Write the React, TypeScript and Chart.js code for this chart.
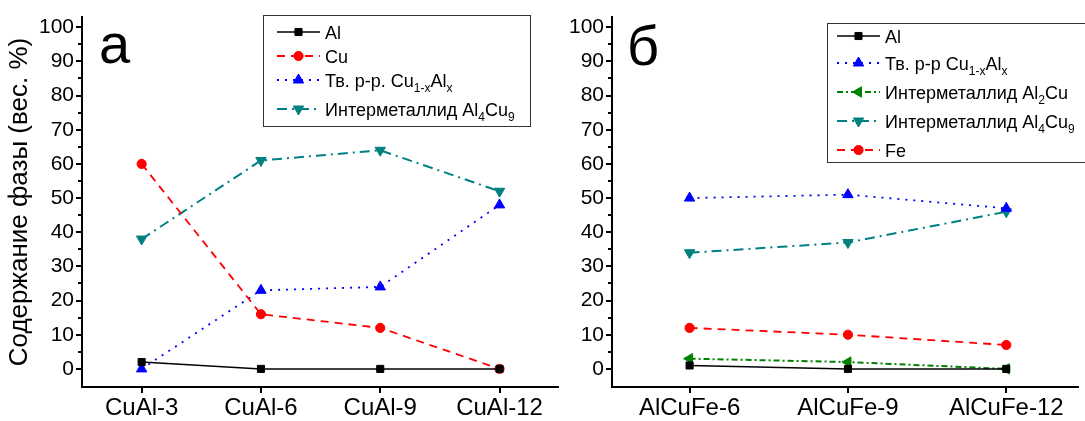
import React, { useEffect, useRef } from 'react';
import { Chart, registerables } from 'chart.js';
Chart.register(...registerables);

const FONT = "'Liberation Sans', Arial, sans-serif";

// ---------- data: panel а ----------
const catsA = ['CuAl-3', 'CuAl-6', 'CuAl-9', 'CuAl-12'];
const aAl = [2, 0, 0, 0];
const aCu = [60, 16, 12, 0];
const aSolid = [0, 23, 24, 48];
const aAl4Cu9 = [38, 61, 64, 52];

// ---------- data: panel б ----------
const catsB = ['AlCuFe-6', 'AlCuFe-9', 'AlCuFe-12'];
const bAl = [1, 0, 0];
const bSolid = [50, 51, 47];
const bAl2Cu = [3, 2, 0];
const bAl4Cu9 = [34, 37, 46];
const bFe = [12, 10, 7];

// ---------- ticks ----------
const yTicks = [0, 10, 20, 30, 40, 50, 60, 70, 80, 90, 100];
const yMinor = [5, 15, 25, 35, 45, 55, 65, 75, 85, 95];
const yTitle = 'Содержание фазы (вес. %)';

// ---------- legend texts ----------
type Seg = { t: string; sub?: boolean };
const lgAl: Seg[] = [{ t: 'Al' }];
const lgCu: Seg[] = [{ t: 'Cu' }];
const lgSolidA: Seg[] = [{ t: 'Тв. р-р. Cu' }, { t: '1-x', sub: true }, { t: 'Al' }, { t: 'x', sub: true }];
const lgSolidB: Seg[] = [{ t: 'Тв. р-р Cu' }, { t: '1-x', sub: true }, { t: 'Al' }, { t: 'x', sub: true }];
const lgAl4Cu9: Seg[] = [{ t: 'Интерметаллид Al' }, { t: '4', sub: true }, { t: 'Cu' }, { t: '9', sub: true }];
const lgAl2Cu: Seg[] = [{ t: 'Интерметаллид Al' }, { t: '2', sub: true }, { t: 'Cu' }];
const lgFe: Seg[] = [{ t: 'Fe' }];

// ---------- styles ----------
type St = { color: string; dash: number[]; width: number; point: string; rot: number; r: number };
const S_AL: St = { color: '#000000', dash: [], width: 1.5, point: 'rect', rot: 0, r: 5 };
const S_CU: St = { color: '#ff0000', dash: [8, 6], width: 1.8, point: 'circle', rot: 0, r: 4.6 };
const S_SOLID: St = { color: '#0000ff', dash: [2, 6], width: 1.8, point: 'triangle', rot: 0, r: 6 };
const S_AL4CU9: St = { color: '#008080', dash: [10, 5, 2, 5], width: 2, point: 'triangle', rot: 180, r: 6 };
const S_AL2CU: St = { color: '#008000', dash: [6, 3, 2, 3], width: 2, point: 'triangle', rot: 270, r: 6 };
const S_FE: St = S_CU;

function ds(label: string, values: number[], st: St) {
  return {
    label,
    data: values.map((v, i) => ({ x: i, y: v })),
    borderColor: st.color,
    backgroundColor: st.color,
    borderDash: st.dash,
    borderWidth: st.width,
    pointStyle: st.point,
    pointRotation: st.rot,
    pointRadius: st.r,
    pointBorderWidth: 1,
    pointBackgroundColor: st.color,
    pointBorderColor: st.color,
    tension: 0,
    clip: false,
  };
}

function drawMarker(ctx: CanvasRenderingContext2D, st: St, x: number, y: number) {
  ctx.save();
  ctx.fillStyle = st.color;
  ctx.strokeStyle = st.color;
  ctx.lineWidth = 1;
  ctx.setLineDash([]);
  ctx.beginPath();
  const r = st.r;
  if (st.point === 'rect') {
    const s = r * Math.SQRT1_2;
    ctx.rect(x - s, y - s, 2 * s, 2 * s);
  } else if (st.point === 'circle') {
    ctx.arc(x, y, r, 0, Math.PI * 2);
  } else {
    let rad = (st.rot * Math.PI) / 180;
    ctx.moveTo(x + Math.sin(rad) * r, y - Math.cos(rad) * r);
    for (let i = 0; i < 2; i++) {
      rad += (2 * Math.PI) / 3;
      ctx.lineTo(x + Math.sin(rad) * r, y - Math.cos(rad) * r);
    }
    ctx.closePath();
  }
  ctx.fill();
  ctx.stroke();
  ctx.restore();
}

type LegendCfg = {
  box: [number, number, number, number];
  lineX0: number;
  lineX1: number;
  textX: number;
  rows: { y: number; st: St; segs: Seg[] }[];
};

function makeChart(
  canvas: HTMLCanvasElement,
  cats: string[],
  datasets: any[],
  opts: {
    xmin: number;
    xmax: number;
    yWidth: number;
    showTitle: boolean;
    padRight: number;
    tag: string;
    tagX: number;
    tagY: number;
    legend: LegendCfg;
  }
) {
  const deco = {
    id: 'deco',
    afterDraw(chart: any) {
      const ctx: CanvasRenderingContext2D = chart.ctx;
      const y = chart.scales.y;
      const ca = chart.chartArea;
      ctx.save();
      // minor ticks
      ctx.strokeStyle = '#000';
      ctx.lineWidth = 2;
      ctx.setLineDash([]);
      for (const v of yMinor) {
        const py = Math.round(y.getPixelForValue(v));
        ctx.beginPath();
        ctx.moveTo(ca.left, py);
        ctx.lineTo(ca.left - 4, py);
        ctx.stroke();
      }
      // panel letter
      ctx.fillStyle = '#000';
      ctx.font = `56px ${FONT}`;
      ctx.textBaseline = 'alphabetic';
      ctx.textAlign = 'left';
      ctx.fillText(opts.tag, opts.tagX, opts.tagY);
      // legend
      const L = opts.legend;
      const [bx, by, bw, bh] = L.box;
      ctx.fillStyle = '#fff';
      ctx.fillRect(bx, by, bw, bh);
      ctx.strokeStyle = '#333';
      ctx.lineWidth = 1;
      ctx.strokeRect(bx + 0.5, by + 0.5, bw, bh);
      for (const row of L.rows) {
        ctx.save();
        ctx.strokeStyle = row.st.color;
        ctx.lineWidth = row.st.width;
        ctx.setLineDash(row.st.dash);
        ctx.beginPath();
        ctx.moveTo(L.lineX0, row.y);
        ctx.lineTo(L.lineX1, row.y);
        ctx.stroke();
        ctx.restore();
        drawMarker(ctx, row.st, (L.lineX0 + L.lineX1) / 2, row.y);
        let cx = L.textX;
        ctx.fillStyle = '#000';
        for (const seg of row.segs) {
          ctx.font = seg.sub ? `12px ${FONT}` : `18px ${FONT}`;
          ctx.fillText(seg.t, cx, row.y + 6.5 + (seg.sub ? 5 : 0));
          cx += ctx.measureText(seg.t).width;
        }
      }
      ctx.restore();
    },
  };

  return new Chart(canvas, {
    type: 'line',
    data: { datasets },
    options: {
      animation: false,
      responsive: false,
      maintainAspectRatio: false,
      layout: { padding: { top: 17, right: opts.padRight, left: 0, bottom: 0 } },
      plugins: { legend: { display: false }, tooltip: { enabled: false } },
      scales: {
        x: {
          type: 'linear',
          min: opts.xmin,
          max: opts.xmax,
          afterBuildTicks: (s: any) => {
            s.ticks = cats.map((_, i) => ({ value: i }));
          },
          afterFit: (s: any) => {
            s.height = 34;
          },
          ticks: {
            callback: (v: any) => cats[v] ?? '',
            font: { size: 24, family: FONT },
            color: '#000',
            padding: 1,
            autoSkip: false,
            maxRotation: 0,
          },
          grid: { drawOnChartArea: false, drawTicks: true, tickLength: 6, color: '#000', lineWidth: 2 },
          border: { display: true, color: '#000', width: 2 },
        },
        y: {
          min: -5.3,
          max: 103,
          afterBuildTicks: (s: any) => {
            s.ticks = yTicks.map((v) => ({ value: v }));
          },
          afterFit: (s: any) => {
            s.width = opts.yWidth;
          },
          ticks: {
            callback: (v: any) => String(v),
            font: { size: 21, family: FONT },
            color: '#000',
            padding: 2,
          },
          title: {
            display: opts.showTitle,
            text: yTitle,
            font: { size: 26, family: FONT },
            color: '#000',
            padding: { top: 4, bottom: 0 },
          },
          grid: { drawOnChartArea: false, drawTicks: true, tickLength: 6, color: '#000', lineWidth: 2 },
          border: { display: true, color: '#000', width: 2 },
        },
      },
    } as any,
    plugins: [deco as any],
  });
}

export default function App() {
  const refA = useRef<HTMLCanvasElement>(null);
  const refB = useRef<HTMLCanvasElement>(null);

  useEffect(() => {
    const chA = makeChart(
      refA.current!,
      catsA,
      [
        ds('Al', aAl, S_AL),
        ds('Cu', aCu, S_CU),
        ds('Тв. р-р. Cu1-xAlx', aSolid, S_SOLID),
        ds('Интерметаллид Al4Cu9', aAl4Cu9, S_AL4CU9),
      ],
      {
        xmin: -0.5,
        xmax: 3.49,
        yWidth: 82,
        showTitle: true,
        padRight: 2,
        tag: 'а',
        tagX: 99,
        tagY: 63,
        legend: {
          box: [263, 15, 267, 111],
          lineX0: 277,
          lineX1: 320,
          textX: 325,
          rows: [
            { y: 32, st: S_AL, segs: lgAl },
            { y: 56, st: S_CU, segs: lgCu },
            { y: 80, st: S_SOLID, segs: lgSolidA },
            { y: 109, st: S_AL4CU9, segs: lgAl4Cu9 },
          ],
        },
      }
    );
    const chB = makeChart(
      refB.current!,
      catsB,
      [
        ds('Al', bAl, S_AL),
        ds('Тв. р-р Cu1-xAlx', bSolid, S_SOLID),
        ds('Интерметаллид Al2Cu', bAl2Cu, S_AL2CU),
        ds('Интерметаллид Al4Cu9', bAl4Cu9, S_AL4CU9),
        ds('Fe', bFe, S_FE),
      ],
      {
        xmin: -0.49,
        xmax: 2.453,
        yWidth: 47,
        showTitle: false,
        padRight: 0,
        tag: 'б',
        tagX: 62,
        tagY: 65,
        legend: {
          box: [262, 23, 300, 139],
          lineX0: 272,
          lineX1: 315,
          textX: 320,
          rows: [
            { y: 36, st: S_AL, segs: lgAl },
            { y: 63, st: S_SOLID, segs: lgSolidB },
            { y: 92, st: S_AL2CU, segs: lgAl2Cu },
            { y: 121, st: S_AL4CU9, segs: lgAl4Cu9 },
            { y: 150, st: S_FE, segs: lgFe },
          ],
        },
      }
    );
    return () => {
      chA.destroy();
      chB.destroy();
    };
  }, []);

  return (
    <div
      style={{
        position: 'absolute',
        left: 0,
        top: 0,
        width: 1085,
        height: 421,
        overflow: 'hidden',
        background: '#fff',
      }}
    >
      <canvas ref={refA} width={565} height={421} style={{ position: 'absolute', left: 0, top: 0 }} />
      <canvas ref={refB} width={520} height={421} style={{ position: 'absolute', left: 565, top: 0 }} />
    </div>
  );
}
